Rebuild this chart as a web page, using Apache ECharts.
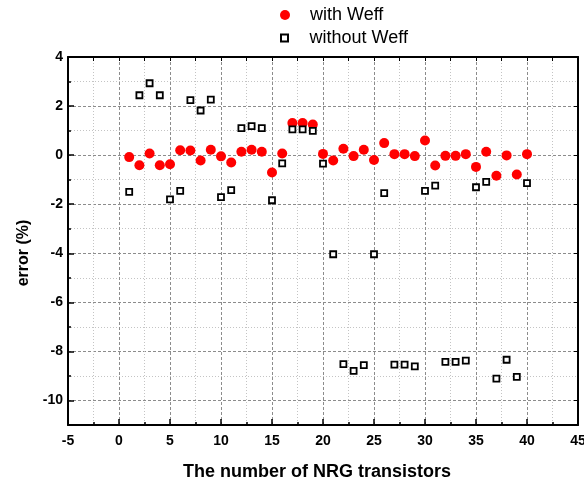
<!DOCTYPE html>
<html>
<head>
<meta charset="utf-8">
<script src="https://cdn.jsdelivr.net/npm/echarts@6/dist/echarts.min.js"></script>
<style>
html,body{margin:0;padding:0;background:#fff;}
#chart{width:584px;height:481px;}
</style>
</head>
<body>
<div id="chart"></div>
<script>
const transistors = [1,2,3,4,5,6,7,8,9,10,11,12,13,14,15,16,17,18,19,20,21,22,23,24,25,26,27,28,29,30,31,32,33,34,35,36,37,38,39,40];
const withWeff = [-0.08,-0.41,0.07,-0.41,-0.37,0.20,0.19,-0.22,0.22,-0.05,-0.30,0.14,0.22,0.14,-0.71,0.07,1.31,1.31,1.25,0.05,-0.22,0.26,-0.04,0.22,-0.20,0.49,0.04,0.04,-0.04,0.60,-0.42,-0.03,-0.03,0.04,-0.48,0.14,-0.84,-0.01,-0.79,0.04];
const withoutWeff = [-1.50,2.44,2.93,2.44,-1.80,-1.46,2.24,1.82,2.26,-1.71,-1.43,1.10,1.18,1.10,-1.84,-0.34,1.05,1.05,0.99,-0.35,-4.04,-8.52,-8.79,-8.56,-4.04,-1.55,-8.54,-8.54,-8.61,-1.46,-1.24,-8.43,-8.43,-8.38,-1.31,-1.09,-9.11,-8.34,-9.04,-1.14];
const yMajorTicks = [-10,-8,-6,-4,-2,0,2,4];
const yMinorTicks = [-9,-7,-5,-3,-1,1,3];
const seriesNames = ['with Weff','without Weff'];

const FONT = '"Liberation Sans", Arial, Helvetica, sans-serif';
const majorLine = {color:'#8c8c8c', width:1, type:[3,2]};
const minorLine = {color:'#c4c4c4', width:1, type:[1,2]};
const axisBlack = {onZero:false, lineStyle:{color:'#000', width:2}};

const chart = echarts.init(document.getElementById('chart'), null, {renderer:'canvas'});
chart.setOption({
  animation:false,
  backgroundColor:'#fff',
  grid:{left:68, right:6, top:57, bottom:56, containLabel:false, outerBoundsMode:'none'},
  legend:[
    {data:[{name:seriesNames[0], icon:'circle'}], left:280, top:6, padding:0, itemWidth:40, itemHeight:10,
     textStyle:{fontFamily:FONT, fontSize:18, color:'#000'}},
    {data:[{name:seriesNames[1], icon:'path://M0,0H10V10H0Z'}], left:280, top:29, padding:0, itemWidth:40, itemHeight:7,
     textStyle:{fontFamily:FONT, fontSize:18, color:'#000'}}
  ],
  xAxis:[
    {type:'value', position:'bottom', min:-5, max:45, interval:5,
     axisLine:axisBlack,
     axisTick:{inside:true, length:6, lineStyle:{color:'#000', width:1.5}},
     minorTick:{show:true, splitNumber:2, length:3, lineStyle:{color:'#000', width:1.5}},
     axisLabel:{fontFamily:FONT, fontSize:14, fontWeight:'bold', color:'#000', margin:9},
     splitLine:{show:true, lineStyle:majorLine},
     minorSplitLine:{show:true, lineStyle:minorLine},
     name:'The number of NRG transistors', nameLocation:'middle', nameGap:38,
     nameTextStyle:{fontFamily:FONT, fontSize:18, fontWeight:'bold', color:'#000', padding:[0,12,0,0]}},
    {type:'value', position:'top', min:-5, max:45, interval:5,
     axisLine:axisBlack,
     axisTick:{inside:true, length:4, lineStyle:{color:'#000', width:1}},
     minorTick:{show:true, splitNumber:2, length:4, lineStyle:{color:'#000', width:1}},
     axisLabel:{show:false}, splitLine:{show:false}}
  ],
  yAxis:[
    {type:'value', position:'left', min:-11, max:4,
     axisLine:axisBlack,
     axisTick:{inside:true, length:6, customValues:yMajorTicks, lineStyle:{color:'#000', width:1.5}},
     axisLabel:{customValues:yMajorTicks, fontFamily:FONT, fontSize:14, fontWeight:'bold', color:'#000', margin:5},
     splitLine:{show:true, lineStyle:majorLine},
     name:'error (%)', nameLocation:'middle', nameGap:36, nameRotate:90,
     nameTextStyle:{fontFamily:FONT, fontSize:16, fontWeight:'bold', color:'#000', padding:[0,24,0,0]}},
    {type:'value', position:'left', min:-11, max:4,
     axisLine:{show:false, onZero:false},
     axisTick:{inside:true, length:3, customValues:yMinorTicks, lineStyle:{color:'#000', width:1.5}},
     axisLabel:{show:false, customValues:yMinorTicks},
     splitLine:{show:true, lineStyle:minorLine}},
    {type:'value', position:'right', min:-11, max:4,
     axisLine:axisBlack,
     axisTick:{inside:true, length:4, customValues:yMajorTicks, lineStyle:{color:'#000', width:1}},
     axisLabel:{show:false, customValues:yMajorTicks},
     splitLine:{show:false}}
  ],
  series:[
    {name:seriesNames[0], type:'scatter', xAxisIndex:0, yAxisIndex:0,
     symbol:'circle', symbolSize:10,
     itemStyle:{color:'#ff0000', opacity:1},
     data:transistors.map((x,i)=>[x, withWeff[i]])},
    {name:seriesNames[1], type:'scatter', xAxisIndex:0, yAxisIndex:0,
     symbol:'rect', symbolSize:6,
     itemStyle:{color:'#ffffff', borderColor:'#000', borderWidth:1.8, opacity:1},
     data:transistors.map((x,i)=>[x, withoutWeff[i]])}
  ]
});
</script>
</body>
</html>
